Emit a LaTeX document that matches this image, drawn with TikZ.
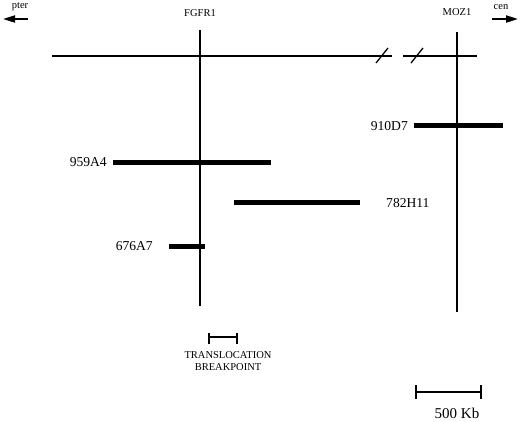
\documentclass[tikz,border=0pt]{standalone}
\usepackage{fontspec}
\setmainfont{Liberation Serif}
\usetikzlibrary{arrows.meta}
\begin{document}
\begin{tikzpicture}[x=1pt,y=-1pt,
  thin line/.style={line width=1.3pt},
  clone/.style={line width=5pt},
  small label/.style={font=\fontsize{10.5}{12}\selectfont, inner sep=0pt},
  clone label/.style={font=\fontsize{13.6}{15}\selectfont, inner sep=0pt},
  dir arrow/.style={line width=2pt, -{Triangle[length=12pt,width=7pt]}}]
\useasboundingbox (0,0) rectangle (520,421);
% direction labels
\node[small label] (pter) at (20,7) {pter};
\node[small label] (cen) at (501,7) {cen};
\coordinate (pterS) at (28,19); \coordinate (pterE) at (3,19);
\coordinate (cenS) at (492,19); \coordinate (cenE) at (518,19);
\draw[dir arrow] (pterS) -- (pterE);
\draw[dir arrow] (cenS) -- (cenE);
% gene labels
\node[small label] (fgfr) at (200,13) {FGFR1};
\node[small label] (moz) at (457,12) {MOZ1};
% main horizontal line
\coordinate (hL) at (52,56); \coordinate (hB1) at (392,56);
\coordinate (hB2) at (403,56); \coordinate (hR) at (477,56);
\draw[thin line] (hL) -- (hB1);
\draw[thin line] (hB2) -- (hR);
\draw[thin line] (376,63) -- (388,48);
\draw[thin line] (411,63) -- (423,48);
% vertical lines
\coordinate (fT) at (200,30); \coordinate (fB) at (200,306);
\coordinate (mT) at (457,32); \coordinate (mB) at (457,312);
\draw[thin line] (fT) -- (fB);
\draw[thin line] (mT) -- (mB);
% clones
\draw[clone] (414,125) -- (503,125);
\node[clone label, anchor=east] (c910) at (408,126) {910D7};
\draw[clone] (113,162) -- (271,162);
\node[clone label, anchor=east] (c959) at (107,162) {959A4};
\draw[clone] (234,202) -- (360,202);
\node[clone label, anchor=west] (c782) at (386,203) {782H11};
\draw[clone] (169,246) -- (205,246);
\node[clone label, anchor=east] (c676) at (153,246) {676A7};
% translocation breakpoint
\draw[thin line] (209,337) -- (237,337);
\draw[thin line] (209,333) -- (209,344);
\draw[thin line] (237,333) -- (237,344);
\node[small label, align=center] (tb) at (228,361) {TRANSLOCATION\\BREAKPOINT};
% scale bar
\draw[thin line] (416,392) -- (481,392);
\draw[thin line] (416,385) -- (416,399);
\draw[thin line] (481,385) -- (481,399);
\node[clone label, font=\fontsize{15}{17}\selectfont] (kb) at (457,413) {500 Kb};
\end{tikzpicture}
\end{document}
